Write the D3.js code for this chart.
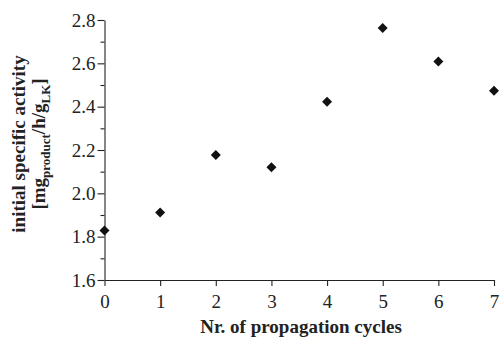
<!DOCTYPE html>
<html>
<head>
<meta charset="utf-8">
<script src="https://cdn.jsdelivr.net/npm/d3@7.9.0/dist/d3.min.js"></script>
<style>
  html, body { margin: 0; padding: 0; background: #fff; }
  svg { display: block; font-family: "Liberation Serif", "Times New Roman", serif; }
</style>
</head>
<body>
<svg id="chart" width="500" height="339"></svg>
<script>
// data
const cycles = [0, 1, 2, 3, 4, 5, 6, 7];
const activity = [1.828, 1.911, 2.177, 2.120, 2.423, 2.763, 2.609, 2.474];
const yTicks = [1.6, 1.8, 2.0, 2.2, 2.4, 2.6, 2.8];
const yMinorTicks = [1.7, 1.9, 2.1, 2.3, 2.5, 2.7];

const svg = d3.select('#chart');
const margin = { left: 104.5, right: 6, top: 20, bottom: 59 };
const W = 500, H = 339;

const x = d3.scaleLinear().domain([0, 7]).range([margin.left, W - margin.right]);
const y = d3.scaleLinear().domain([1.6, 2.8]).range([H - margin.bottom, margin.top]);

// x axis
const xAxis = svg.append('g')
    .attr('transform', `translate(0,${y(1.6)})`)
    .call(d3.axisBottom(x).tickValues(cycles).tickFormat(d3.format('d')).tickSize(6).tickSizeOuter(0));

// y axis, major + minor ticks
const yAxis = svg.append('g')
    .attr('transform', `translate(${x(0)},0)`)
    .call(d3.axisLeft(y).tickValues(yTicks).tickFormat(d3.format('.1f')).tickSize(7).tickSizeOuter(0));
svg.append('g')
    .attr('transform', `translate(${x(0)},0)`)
    .call(d3.axisLeft(y).tickValues(yMinorTicks).tickFormat('').tickSize(4).tickSizeOuter(0))
    .select('.domain').remove();

svg.selectAll('.domain, .tick line').attr('stroke', '#222').attr('stroke-width', 1.1);
xAxis.selectAll('.tick text').attr('font-size', 19).attr('font-family', 'Liberation Serif').attr('fill', '#222')
    .attr('y', 0).attr('dy', 0).attr('transform', 'translate(0,28)');
yAxis.selectAll('.tick text').attr('font-size', 19).attr('font-family', 'Liberation Serif').attr('fill', '#222').attr('x', -9);

// markers
svg.append('g').selectAll('path')
    .data(cycles)
    .join('path')
    .attr('transform', (d, i) => `translate(${x(d)},${y(activity[i])}) rotate(45)`)
    .attr('d', d3.symbol(d3.symbolSquare, 50))
    .attr('fill', '#111');

// axis titles
svg.append('text')
    .attr('x', 301).attr('y', 333)
    .attr('text-anchor', 'middle')
    .attr('font-size', 19).attr('font-weight', 'bold').attr('fill', '#222')
    .text('Nr. of propagation cycles');

const yTitle = svg.append('g').attr('transform', 'translate(0,144) rotate(-90)');
yTitle.append('text')
    .attr('x', 0).attr('y', 25)
    .attr('text-anchor', 'middle')
    .attr('font-size', 19).attr('font-weight', 'bold').attr('fill', '#222')
    .text('initial specific activity');
const unit = yTitle.append('text')
    .attr('x', 0).attr('y', 45)
    .attr('text-anchor', 'middle')
    .attr('font-size', 19).attr('font-weight', 'bold').attr('fill', '#222');
unit.append('tspan').text('[mg');
unit.append('tspan').attr('dy', 5).attr('font-size', 13).text('product');
unit.append('tspan').attr('dy', -5).text('/h/g');
unit.append('tspan').attr('dy', 5).attr('font-size', 13).text('LK');
unit.append('tspan').attr('dy', -5).text(']');
</script>
</body>
</html>
